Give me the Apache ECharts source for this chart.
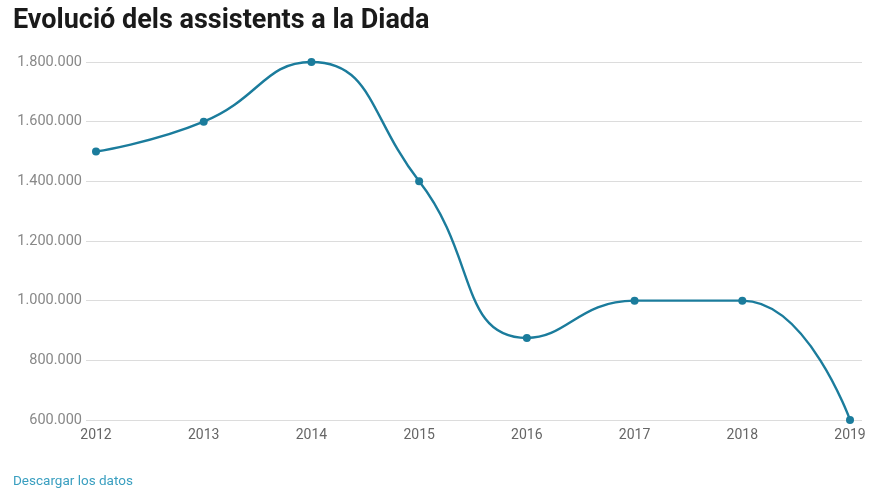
<!DOCTYPE html>
<html><head><meta charset="utf-8">
<script src="https://cdn.jsdelivr.net/npm/echarts@6/dist/echarts.min.js"></script>
<style>html,body{margin:0;padding:0;background:#fff}#c{width:880px;height:495px}</style>
</head><body><div id="c"></div>
<script>
var years = ['2012','2013','2014','2015','2016','2017','2018','2019'];
var assistents = [1500000, 1600000, 1800000, 1400000, 875000, 1000000, 1000000, 600000];
var yMin = 600000, yMax = 1800000, yStep = 200000;

function fmt(v){ return String(v).replace(/\B(?=(\d{3})+(?!\d))/g, '.'); }

var chart = echarts.init(document.getElementById('c'));
var yBase = {
  type: 'value', min: yMin, max: yMax, interval: yStep,
  axisLine: {show: false},
  splitLine: {lineStyle: {color: '#dcdcdc', width: 1}}
};
chart.setOption({
  animation: false,
  title: [{
    text: 'Evolució dels assistents a la Diada', left: 8, top: 3,
    textStyle: {fontFamily: 'Roboto', fontWeight: 'bold', fontSize: 27, color: '#1a1a1a'}
  }, {
    text: 'Descargar los datos', left: 8, top: 470,
    textStyle: {fontFamily: 'Roboto', fontWeight: 'normal', fontSize: 13.5, color: '#3a9fc0'}
  }],
  grid: {left: 96, right: 30, top: 62, bottom: 75},
  xAxis: {
    type: 'category', data: years, boundaryGap: false,
    axisLine: {show: false}, axisTick: {show: false},
    axisLabel: {color: '#666', fontFamily: 'Roboto', fontSize: 14, margin: 8}
  },
  yAxis: [
    Object.assign({}, yBase, {
      axisTick: {show: true, length: 10, lineStyle: {color: '#dcdcdc'}},
      axisLabel: {color: '#888', fontFamily: 'Roboto', fontSize: 14.5, margin: 14, formatter: fmt}
    }),
    Object.assign({}, yBase, {
      position: 'right',
      axisTick: {show: true, length: 12, lineStyle: {color: '#dcdcdc'}},
      axisLabel: {show: false}, splitLine: {show: false}
    })
  ],
  series: [{
    type: 'line', data: assistents, smooth: 0.5,
    symbol: 'circle', symbolSize: 8,
    lineStyle: {color: '#1b7c9c', width: 2.4},
    itemStyle: {color: '#1b7c9c'}
  }]
});
</script></body></html>
